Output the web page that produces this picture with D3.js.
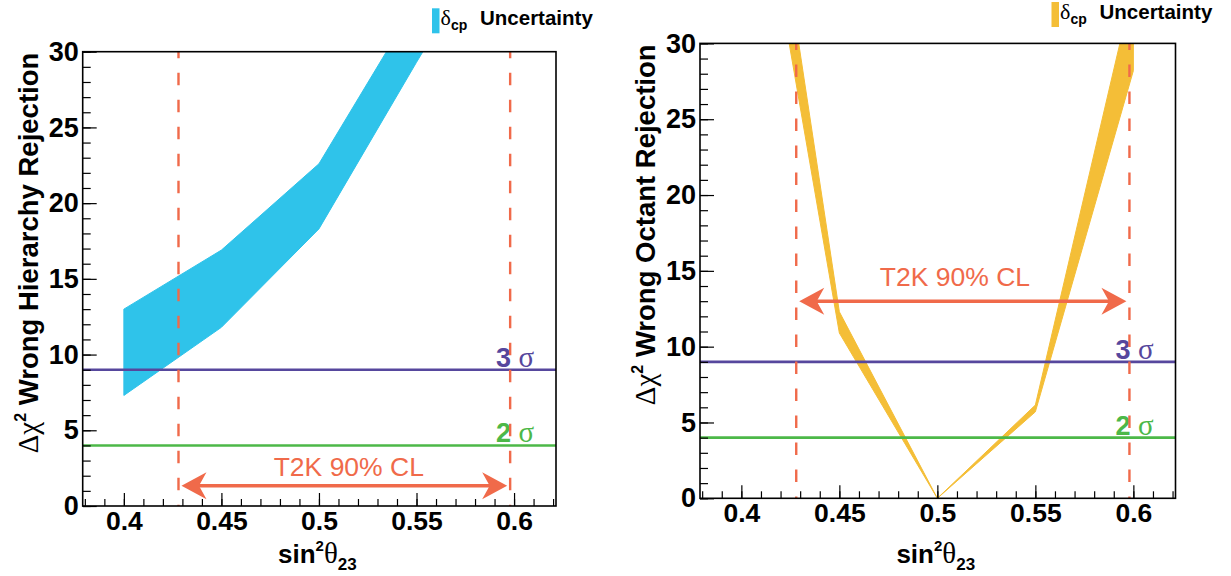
<!DOCTYPE html>
<html>
<head>
<meta charset="utf-8">
<script src="https://cdn.jsdelivr.net/npm/d3@7"></script>
<style>
  body { margin: 0; background: #ffffff; }
  svg { display: block; }
</style>
</head>
<body>
<svg id="chart" width="1231" height="576"></svg>
<script>
// sin^2(theta23) points where the sensitivity was evaluated
const sin2Theta23 = [0.40, 0.45, 0.50, 0.55, 0.60];
// Δχ² band edges over the full δcp range: wrong mass hierarchy
const hierarchyMin = [7.3, 11.8, 18.3, 29.3, 40.0];
const hierarchyMax = [13.0, 16.9, 22.6, 33.3, 45.0];
// Δχ² band edges over the full δcp range: wrong octant
const octantMin = [48.2, 10.9, 0.0, 5.7, 28.2];
const octantMax = [55.0, 12.3, 0.0, 6.15, 33.8];
// significance reference levels and their Δχ² values
const sigmaLevels = ["2", "3"];
const sigmaChi2 = [4, 9];
// T2K 90% CL interval on sin^2(theta23)
const t2kInterval = [0.428, 0.598];
// axis ticks
const xTicks = [0.40, 0.45, 0.50, 0.55, 0.60];
const xTickLabels = ["0.4", "0.45", "0.5", "0.55", "0.6"];
const yTicks = [0, 5, 10, 15, 20, 25, 30];
const yTickLabels = ["0", "5", "10", "15", "20", "25", "30"];

const SANS = "'Liberation Sans', Arial, Helvetica, sans-serif";
const SERIF = "'Liberation Serif', 'Times New Roman', serif";
const ORANGE = "#f06a4a";
const sigmaColors = ["#4cb848", "#56479d"];

const panels = [
  {
    id: "hier",
    frame: { x0: 82.7, x1: 556, y0: 51.7, y1: 506 },
    title: " Wrong Hierarchy Rejection",
    low: hierarchyMin, high: hierarchyMax,
    fill: "#2fc3ea",
    arrowAt: 1.34, labelAt: [0.5153, 2.0],
    legendTop: 8.3
  },
  {
    id: "oct",
    frame: { x0: 700, x1: 1175.5, y0: 43.4, y1: 498.3 },
    title: " Wrong Octant Rejection",
    low: octantMin, high: octantMax,
    fill: "#f4be37",
    arrowAt: 13.0, labelAt: [0.509, 14.0],
    legendTop: 2
  }
];

const svg = d3.select("#chart");

panels.forEach(p => {
  const f = p.frame;
  const x = d3.scaleLinear().domain([0.3789, 0.6215]).range([f.x0, f.x1]);
  const y = d3.scaleLinear().domain([0, 30]).range([f.y1, f.y0]);
  const g = svg.append("g");

  g.append("clipPath").attr("id", "clip-" + p.id)
    .append("rect")
    .attr("x", f.x0).attr("y", f.y0)
    .attr("width", f.x1 - f.x0).attr("height", f.y1 - f.y0);

  // δcp uncertainty band
  const pts = sin2Theta23.map((s, i) => ({ s, lo: p.low[i], hi: p.high[i] }));
  const band = d3.area()
    .x(d => x(d.s))
    .y0(d => y(d.lo))
    .y1(d => y(d.hi));
  g.append("path")
    .datum(pts)
    .attr("clip-path", `url(#clip-${p.id})`)
    .attr("d", band)
    .attr("fill", p.fill)
    .attr("stroke", p.fill)
    .attr("stroke-width", 1);

  // significance levels
  sigmaChi2.forEach((v, i) => {
    g.append("line")
      .attr("x1", f.x0).attr("x2", f.x1)
      .attr("y1", y(v)).attr("y2", y(v))
      .attr("stroke", sigmaColors[i]).attr("stroke-width", 2.6);
    const t = g.append("text")
      .attr("x", f.x1 - 60).attr("y", y(v) - 3)
      .attr("fill", sigmaColors[i]);
    t.append("tspan").attr("font-family", SANS).attr("font-weight", "bold")
      .attr("font-size", 27).text(sigmaLevels[i] + " ");
    t.append("tspan").attr("font-family", SERIF)
      .attr("font-size", 29).text("σ");
  });

  // T2K interval boundaries
  t2kInterval.forEach(v => {
    g.append("line")
      .attr("x1", x(v)).attr("x2", x(v))
      .attr("y1", f.y0).attr("y2", f.y1)
      .attr("stroke", ORANGE).attr("stroke-width", 2.4)
      .attr("stroke-dasharray", "12.5,14.5")
      .attr("stroke-dashoffset", 6);
  });

  // double-headed arrow across the interval
  const ay = y(p.arrowAt);
  const xa = x(t2kInterval[0]) + 3, xb = x(t2kInterval[1]) - 3;
  g.append("line")
    .attr("x1", xa + 10).attr("x2", xb - 10)
    .attr("y1", ay).attr("y2", ay)
    .attr("stroke", ORANGE).attr("stroke-width", 3.4);
  const L = 25, h = 13.5, notch = 0.7;
  g.append("path")
    .attr("d", `M${xa},${ay} L${xa + L},${ay - h} L${xa + L * notch},${ay} L${xa + L},${ay + h} Z`)
    .attr("fill", ORANGE);
  g.append("path")
    .attr("d", `M${xb},${ay} L${xb - L},${ay - h} L${xb - L * notch},${ay} L${xb - L},${ay + h} Z`)
    .attr("fill", ORANGE);
  g.append("text")
    .attr("x", x(p.labelAt[0])).attr("y", y(p.labelAt[1]))
    .attr("text-anchor", "middle")
    .attr("font-family", SANS).attr("font-size", 26.5)
    .attr("fill", ORANGE)
    .text("T2K 90% CL");

  // axes with ticks pointing into the frame
  const yMinor = d3.range(0, 30.01, 1);
  const xMinor = d3.range(38, 63, 1).map(d => d / 100).filter(d => d >= 0.3789 && d <= 0.6215);

  g.append("g").attr("transform", `translate(${f.x0},0)`)
    .call(d3.axisLeft(y).tickValues(yMinor).tickSize(-8).tickSizeOuter(0).tickFormat(""))
    .call(a => a.select(".domain").remove());
  g.append("g").attr("transform", `translate(${f.x0},0)`)
    .call(d3.axisLeft(y).tickValues(yTicks).tickSize(-14).tickSizeOuter(0).tickPadding(4)
      .tickFormat((d, i) => yTickLabels[i]))
    .call(a => a.select(".domain").remove())
    .call(a => a.selectAll("text")
      .attr("font-family", SANS).attr("font-weight", "bold").attr("font-size", 27)
      .attr("fill", "#000"));

  g.append("g").attr("transform", `translate(0,${f.y1})`)
    .call(d3.axisBottom(x).tickValues(xMinor).tickSize(-7).tickSizeOuter(0).tickFormat(""))
    .call(a => a.select(".domain").remove());
  g.append("g").attr("transform", `translate(0,${f.y1})`)
    .call(d3.axisBottom(x).tickValues(xTicks).tickSize(-13).tickSizeOuter(0).tickPadding(5)
      .tickFormat((d, i) => xTickLabels[i]))
    .call(a => a.select(".domain").remove())
    .call(a => a.selectAll("text")
      .attr("font-family", SANS).attr("font-weight", "bold").attr("font-size", 26.5)
      .attr("fill", "#000"));
  g.selectAll(".tick line").attr("stroke", "#000").attr("stroke-width", 1.2);

  // frame
  g.append("rect")
    .attr("x", f.x0).attr("y", f.y0)
    .attr("width", f.x1 - f.x0).attr("height", f.y1 - f.y0)
    .attr("fill", "none").attr("stroke", "#000").attr("stroke-width", 1.6);

  // x axis title
  const xt = g.append("text")
    .attr("x", (f.x0 + f.x1) / 2 - 2).attr("y", 563)
    .attr("text-anchor", "middle").attr("fill", "#000");
  xt.append("tspan").attr("font-family", SANS).attr("font-weight", "bold")
    .attr("font-size", 26).text("sin");
  xt.append("tspan").attr("font-family", SANS).attr("font-weight", "bold")
    .attr("font-size", 15).attr("dy", -12).text("2");
  xt.append("tspan").attr("font-family", SERIF)
    .attr("font-size", 29).attr("dy", 12).text("θ");
  xt.append("tspan").attr("font-family", SANS).attr("font-weight", "bold")
    .attr("font-size", 17).attr("dy", 7).text("23");

  // y axis title, aligned to the top of the axis
  const yt = g.append("text")
    .attr("transform", `translate(${f.x0 - 45},${f.y0 + 1}) rotate(-90)`)
    .attr("text-anchor", "end").attr("fill", "#000");
  yt.append("tspan").attr("font-family", SERIF).attr("font-size", 29).text("Δχ");
  yt.append("tspan").attr("font-family", SANS).attr("font-weight", "bold")
    .attr("font-size", 16).attr("dy", -12).text("2");
  yt.append("tspan").attr("font-family", SANS).attr("font-weight", "bold")
    .attr("font-size", 27.5).attr("dy", 12).text(p.title);

  // legend
  const lx = f.x1 - 124, ly = p.legendTop;
  g.append("rect").attr("x", lx).attr("y", ly).attr("width", 7.5).attr("height", 25)
    .attr("fill", p.fill);
  const lt = g.append("text").attr("x", lx + 8.5).attr("y", ly + 17).attr("fill", "#000");
  lt.append("tspan").attr("font-family", SERIF).attr("font-size", 22).text("δ");
  lt.append("tspan").attr("font-family", SANS).attr("font-weight", "bold")
    .attr("font-size", 14).attr("dy", 5).text("cp");
  g.append("text").attr("x", lx + 48).attr("y", ly + 17)
    .attr("font-family", SANS).attr("font-weight", "bold").attr("font-size", 20.5)
    .attr("fill", "#000").text("Uncertainty");
});
</script>
</body>
</html>
